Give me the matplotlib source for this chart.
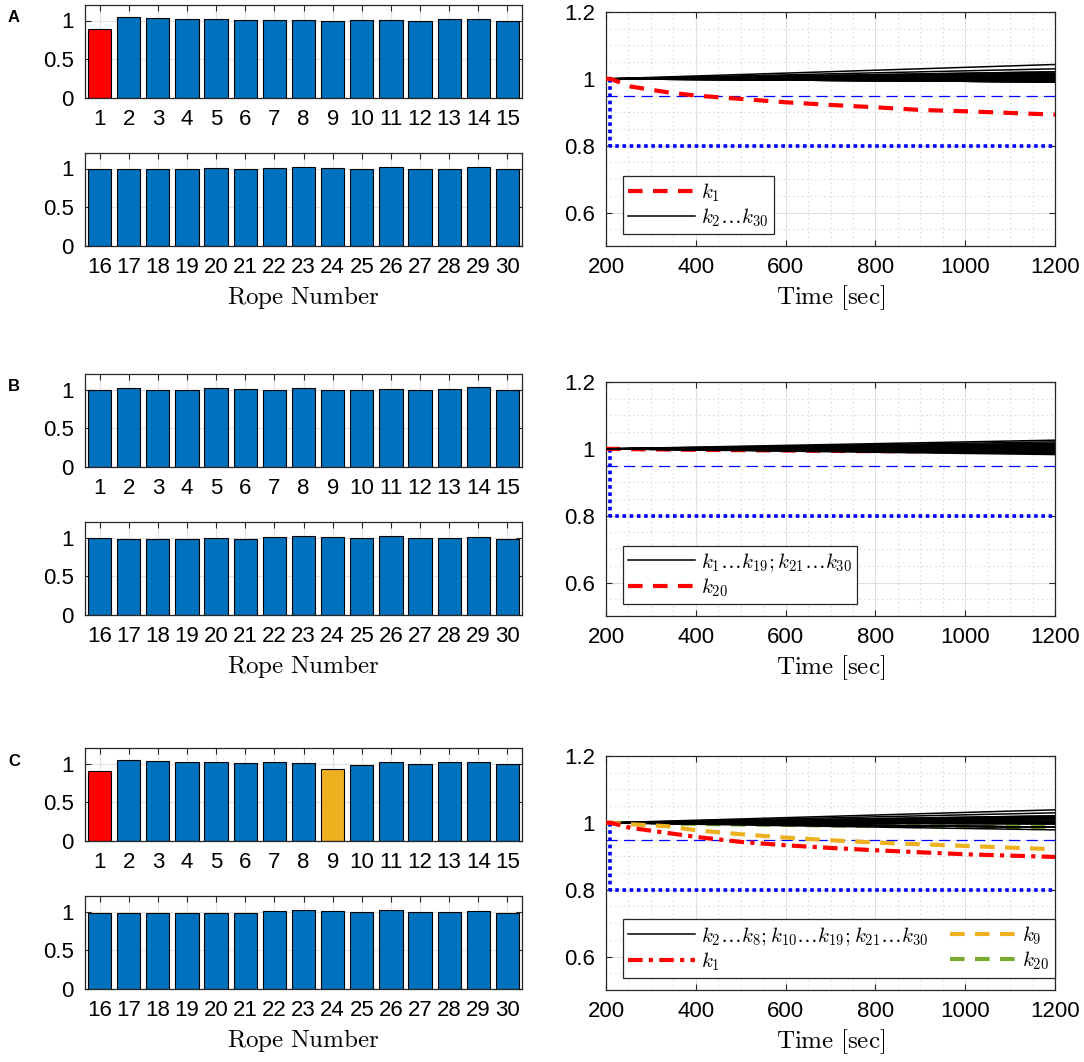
import matplotlib
matplotlib.use("Agg")
import matplotlib.pyplot as plt
from matplotlib.ticker import MultipleLocator, FuncFormatter
import numpy as np

plt.rcParams['font.family'] = ['Liberation Sans', 'DejaVu Sans']
plt.rcParams['mathtext.fontset'] = 'cm'

# ---- data ----
ropes_top = list(range(1, 16))
ropes_bot = list(range(16, 31))

# final stiffness ratio per rope (bars), one list per scenario
bars_A = [0.893, 1.043, 1.030, 1.013, 1.013, 1.004, 1.004, 1.009, 0.996, 1.004,
          1.009, 0.991, 1.013, 1.021, 0.996,
          0.991, 0.991, 0.991, 0.991, 1.009, 1.000, 1.004, 1.021, 1.004, 0.996,
          1.017, 1.000, 1.000, 1.013, 0.991]
bars_B = [0.991, 1.013, 1.000, 1.000, 1.013, 1.004, 0.996, 1.013, 1.000, 0.996,
          1.009, 1.000, 1.009, 1.026, 1.000,
          0.991, 0.987, 0.987, 0.983, 0.991, 0.987, 1.009, 1.021, 1.004, 1.000,
          1.017, 1.000, 1.000, 1.009, 0.987]
bars_C = [0.901, 1.039, 1.030, 1.017, 1.013, 1.009, 1.021, 1.004, 0.923, 0.987,
          1.013, 1.000, 1.013, 1.017, 1.000,
          0.987, 0.987, 0.987, 0.979, 0.987, 0.987, 1.004, 1.021, 1.004, 0.996,
          1.017, 1.000, 1.000, 1.009, 0.987]

# time histories of the damaged ropes
t_dmg = [200, 210, 255, 336, 400, 500, 600, 700, 800, 900, 1000, 1100, 1200]
k1_A = [1.0, 1.0, 0.977, 0.960, 0.950, 0.940, 0.930, 0.922, 0.915, 0.907, 0.903, 0.898, 0.893]
k20_B = [1.0, 1.0, 0.999, 0.998, 0.997, 0.996, 0.995, 0.994, 0.993, 0.993, 0.992, 0.992, 0.991]
k1_C = [1.0, 1.0, 0.985, 0.970, 0.958, 0.943, 0.933, 0.925, 0.918, 0.912, 0.906, 0.902, 0.898]
k9_C = [1.0, 1.0, 0.996, 0.990, 0.978, 0.966, 0.956, 0.948, 0.941, 0.936, 0.931, 0.926, 0.921]
k20_C = [1.0, 1.0, 0.999, 0.998, 0.997, 0.995, 0.994, 0.992, 0.991, 0.990, 0.989, 0.988, 0.987]

# healthy ropes: straight from t_start to t_end
t_start, t_end = 200, 1200

# thresholds
warn_level = 0.95
thr_t = [210, 210, 1200]
thr_y = [1.0, 0.8, 0.8]

blue_bar = '#0072BD'
red = '#FF0000'
yellow = '#EDB120'
green = '#77AC30'
frame = '#262626'

W, H = 1084, 1062
fig = plt.figure(figsize=(W / 100, H / 100), dpi=100)


def px_axes(x0, y0, x1, y1):
    return fig.add_axes([x0 / W, 1 - y1 / H, (x1 - x0) / W, (y1 - y0) / H])


def style(ax):
    for s in ax.spines.values():
        s.set_color(frame)
        s.set_linewidth(0.9)
    ax.tick_params(direction='in', top=True, right=True, length=4, width=0.8,
                   color=frame, labelsize=16, pad=8)
    ax.tick_params(which='minor', length=0)


def bar_panel(ax, ropes, vals, colors, show_label):
    style(ax)
    ax.bar(ropes, vals, width=0.8, color=colors, edgecolor='black', linewidth=0.8, zorder=2)
    ax.set_xlim(ropes[0] - 0.5, ropes[-1] + 0.5)
    ax.set_ylim(0, 1.2)
    ax.set_xticks(ropes)
    ax.set_yticks([0, 0.5, 1])
    ax.yaxis.set_major_formatter(FuncFormatter(lambda v, p: '%g' % v))
    ax.grid(True, color='#e2e2e2', linewidth=0.8, zorder=0)
    ax.set_axisbelow(True)
    if show_label:
        ax.set_xlabel(r'$\mathrm{Rope\ Number}$', fontsize=18, labelpad=4)


def time_panel(ax):
    style(ax)
    ax.set_xlim(200, 1200)
    ax.set_ylim(0.5, 1.2)
    ax.set_xticks([200, 400, 600, 800, 1000, 1200])
    ax.set_yticks([0.6, 0.8, 1.0, 1.2])
    ax.yaxis.set_major_formatter(FuncFormatter(lambda v, p: '%g' % v))
    ax.xaxis.set_minor_locator(MultipleLocator(50))
    ax.yaxis.set_minor_locator(MultipleLocator(0.05))
    ax.grid(True, which='major', color='#e0e0e0', linewidth=0.8)
    ax.grid(True, which='minor', color='#cfcfcf', linestyle=(0, (1, 3)), linewidth=0.8)
    ax.set_axisbelow(True)
    ax.set_xlabel(r'$\mathrm{Time\ [sec]}$', fontsize=18, labelpad=4)
    ax.axhline(warn_level, color='#0000FF', linewidth=0.9, linestyle=(0, (9, 5)), zorder=2)
    ax.plot(thr_t, thr_y, color='#0000FF', linewidth=2.6, linestyle=(0, (1, 1)), zorder=2)


def healthy(ax, vals, skip):
    first = None
    for i, v in enumerate(vals):
        if i + 1 in skip:
            continue
        ln, = ax.plot([t_start, t_end], [1.0, v], color='black', linewidth=1.1, zorder=3)
        if first is None:
            first = ln
    return first


def bar_colors(special):
    cols = [blue_bar] * 30
    for idx, c in special.items():
        cols[idx - 1] = c
    return cols


panels = [
    ('A', bars_A, bar_colors({1: red}), 5, 12),
    ('B', bars_B, bar_colors({}), 374, 382),
    ('C', bars_C, bar_colors({1: red, 9: yellow}), 748, 756),
]

for letter, vals, cols, ytop, rtop in panels:
    ax1 = px_axes(85, ytop, 522, ytop + 93)
    bar_panel(ax1, ropes_top, vals[:15], cols[:15], False)
    ax2 = px_axes(85, ytop + 148, 522, ytop + 241)
    bar_panel(ax2, ropes_bot, vals[15:], cols[15:], True)
    fig.text(14 / W, 1 - (ytop + 13) / H, letter, fontsize=12, fontweight='bold',
             ha='center', va='center')

    ax = px_axes(606, rtop, 1055, rtop + 234)
    time_panel(ax)
    leg_kw = dict(loc='lower left', bbox_to_anchor=(0.038, 0.052), borderaxespad=0,
                  fontsize=15, handlelength=3.2, frameon=True, fancybox=False,
                  edgecolor=frame, framealpha=1, borderpad=0.25, labelspacing=0.12,
                  handletextpad=0.3)
    if letter == 'A':
        blk = healthy(ax, vals, {1})
        r, = ax.plot(t_dmg, k1_A, color=red, linewidth=3, linestyle=(0, (3.5, 2.5)), zorder=4)
        lg = ax.legend([r, blk], [r'$k_1$', r'$k_2\ldots k_{30}$'], **leg_kw)
    elif letter == 'B':
        r, = ax.plot(t_dmg, k20_B, color=red, linewidth=3, linestyle=(0, (3.5, 2.5)), zorder=3)
        blk = healthy(ax, vals, {20})
        lg = ax.legend([blk, r], [r'$k_1\ldots k_{19};k_{21}\ldots k_{30}$', r'$k_{20}$'], **leg_kw)
    else:
        g, = ax.plot(t_dmg, k20_C, color=green, linewidth=3, linestyle=(0, (3.5, 2.5)), zorder=3)
        blk = healthy(ax, vals, {1, 9, 20})
        y9, = ax.plot(t_dmg, k9_C, color=yellow, linewidth=3, linestyle=(0, (3.5, 2.5)), zorder=4)
        r, = ax.plot(t_dmg, k1_C, color=red, linewidth=3, linestyle=(0, (3.5, 1.5, 1, 1.5)), zorder=4)
        lg = ax.legend([blk, r, y9, g],
                       [r'$k_2\ldots k_8;k_{10}\ldots k_{19};k_{21}\ldots k_{30}$', r'$k_1$',
                        r'$k_9$', r'$k_{20}$'], ncol=2, columnspacing=1.0, **leg_kw)
    lg.get_frame().set_linewidth(0.9)

fig.savefig('out.png', dpi=100)
